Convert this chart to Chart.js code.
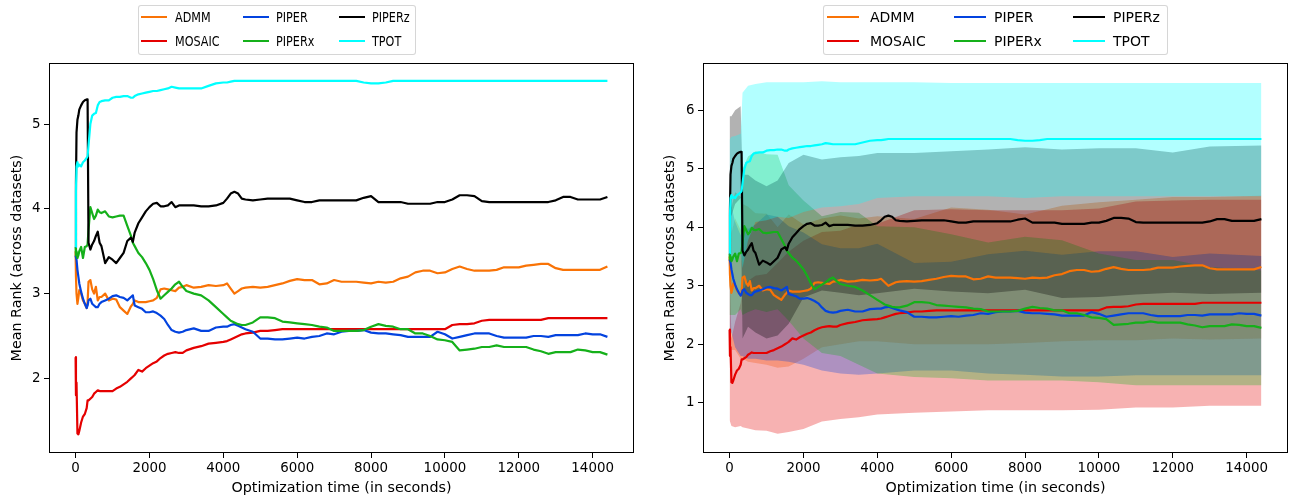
<!DOCTYPE html>
<html><head><meta charset="utf-8">
<script src="https://cdn.jsdelivr.net/npm/chart.js@4.4.0/dist/chart.umd.min.js"></script>
<style>
html,body{margin:0;padding:0;background:#fff;}
#wrap{position:relative;width:1291px;height:502px;overflow:hidden;font-family:"DejaVu Sans",sans-serif;background:#fff;}
canvas{position:absolute;top:0;}
.leg{position:absolute;border:1px solid rgba(204,204,204,0.8);border-radius:3px;background:rgba(255,255,255,0.8);box-sizing:border-box;}
.li{position:absolute;height:2px;}
.lt{position:absolute;color:#000;white-space:nowrap;line-height:normal;transform-origin:0 50%;}
</style></head>
<body><div id="wrap">
<canvas id="c1" width="645" height="502" style="left:0px"></canvas>
<canvas id="c2" width="646" height="502" style="left:645px"></canvas>
</div>
<script>
// ---------------- DATA ----------------
const times = [0,10,25,50,75,100,150,200,250,300,
  325,350,400,450,500,550,600,650,700,
  800,900,1000,1100,1200,1300,1400,1500,
  1550,1600,
  1700,1800,1900,2000,2100,2200,2300,2400,2500,2600,2700,2800,2900,3000,
  3200,3400,3600,3800,4000,
  4100,4200,4300,4400,4500,4600,
  4800,5000,5200,5400,5600,5800,6000,6200,6400,6600,6800,7000,7200,7400,7600,7800,8000,8200,8400,8600,8800,9000,9200,9400,9600,9800,10000,10200,10400,10600,10800,11000,11200,11400,11600,11800,12000,12200,12400,12600,12800,13000,13200,13400,13600,13800,14000,14200,14400];

const admm = [3.5,3.2,3.0,2.88,2.95,3.04,3.0,2.92,2.88,2.83,
  2.9,3.14,3.16,3.05,3.0,3.08,2.92,2.96,2.96,
  3.0,2.92,2.94,2.93,2.84,2.8,2.76,2.85,
  2.88,2.92,
  2.9,2.9,2.9,2.91,2.92,2.95,3.05,3.06,3.05,3.04,3.03,3.07,3.08,3.1,
  3.07,3.08,3.1,3.09,3.1,
  3.12,3.06,3.0,3.03,3.06,3.07,
  3.08,3.07,3.08,3.1,3.12,3.15,3.17,3.16,3.16,3.11,3.12,3.16,3.14,3.14,3.14,3.13,3.12,3.14,3.13,3.14,3.18,3.2,3.25,3.27,3.27,3.24,3.25,3.29,3.32,3.29,3.27,3.27,3.27,3.28,3.31,3.31,3.31,3.33,3.34,3.35,3.35,3.3,3.28,3.28,3.28,3.28,3.28,3.28,3.32];

const mosaic = [2.25,1.8,1.95,1.35,1.34,1.38,1.48,1.55,1.58,1.65,
  1.74,1.74,1.76,1.78,1.82,1.84,1.86,1.85,1.85,
  1.85,1.85,1.85,1.88,1.9,1.93,1.96,2.0,
  2.02,2.04,
  2.1,2.08,2.12,2.15,2.18,2.2,2.24,2.27,2.29,2.3,2.31,2.3,2.3,2.33,
  2.36,2.38,2.41,2.42,2.43,
  2.44,2.46,2.48,2.5,2.52,2.53,
  2.54,2.56,2.56,2.57,2.58,2.58,2.58,2.58,2.58,2.58,2.58,2.58,2.58,2.58,2.58,2.58,2.58,2.58,2.58,2.58,2.58,2.58,2.58,2.58,2.58,2.58,2.58,2.63,2.64,2.64,2.65,2.68,2.69,2.69,2.69,2.69,2.69,2.69,2.69,2.69,2.71,2.71,2.71,2.71,2.71,2.71,2.71,2.71,2.71];

const piper = [3.45,3.43,3.4,3.28,3.2,3.12,3.02,2.94,2.88,2.83,
  2.86,2.92,2.94,2.88,2.86,2.84,2.84,2.88,2.9,
  2.92,2.94,2.97,2.98,2.96,2.95,2.92,2.96,
  2.98,2.86,
  2.84,2.82,2.78,2.78,2.79,2.77,2.74,2.7,2.63,2.57,2.55,2.54,2.55,2.57,
  2.59,2.56,2.56,2.6,2.61,
  2.61,2.63,2.64,2.62,2.6,2.58,
  2.55,2.47,2.47,2.46,2.46,2.47,2.48,2.47,2.49,2.5,2.53,2.52,2.55,2.56,2.56,2.57,2.54,2.53,2.53,2.52,2.51,2.49,2.49,2.49,2.49,2.55,2.52,2.47,2.49,2.51,2.53,2.53,2.53,2.5,2.48,2.48,2.48,2.48,2.5,2.5,2.49,2.51,2.51,2.51,2.51,2.53,2.52,2.52,2.49];

const piperx = [3.55,3.45,3.5,3.42,3.45,3.5,3.55,3.42,3.55,3.56,
  3.58,3.75,4.02,3.95,3.88,3.92,3.99,3.96,3.95,
  3.97,3.91,3.9,3.91,3.92,3.92,3.8,3.68,
  3.6,3.56,
  3.48,3.43,3.36,3.28,3.17,3.04,2.94,2.98,3.02,3.06,3.11,3.14,3.08,3.03,
  3.0,2.98,2.92,2.84,2.76,
  2.72,2.68,2.66,2.64,2.63,2.63,
  2.66,2.72,2.72,2.71,2.67,2.66,2.65,2.64,2.63,2.61,2.6,2.56,2.56,2.56,2.56,2.57,2.61,2.64,2.62,2.61,2.58,2.58,2.53,2.53,2.5,2.46,2.45,2.43,2.33,2.34,2.35,2.37,2.37,2.39,2.37,2.37,2.37,2.37,2.34,2.32,2.29,2.31,2.31,2.31,2.34,2.33,2.31,2.31,2.28];

const piperz = [3.55,4.3,4.9,5.05,5.1,5.17,5.22,5.26,5.28,5.29,
  5.29,3.6,3.52,3.58,3.62,3.68,3.73,3.6,3.56,
  3.36,3.43,3.4,3.36,3.42,3.48,3.62,3.66,
  3.61,3.72,
  3.83,3.9,3.97,4.02,4.06,4.07,4.03,4.03,4.04,4.08,4.02,4.04,4.04,4.04,
  4.04,4.03,4.03,4.04,4.07,
  4.12,4.18,4.2,4.18,4.12,4.11,
  4.1,4.11,4.12,4.12,4.12,4.12,4.1,4.08,4.08,4.1,4.1,4.1,4.1,4.1,4.1,4.13,4.15,4.08,4.08,4.08,4.08,4.06,4.06,4.06,4.06,4.08,4.08,4.11,4.16,4.16,4.15,4.09,4.08,4.08,4.08,4.08,4.08,4.08,4.08,4.08,4.08,4.1,4.14,4.14,4.11,4.11,4.11,4.11,4.14];

const tpot = [3.55,4.2,4.5,4.55,4.5,4.52,4.5,4.55,4.57,4.6,
  4.62,4.75,5.0,5.1,5.12,5.13,5.22,5.26,5.27,
  5.28,5.28,5.31,5.32,5.32,5.33,5.33,5.31,
  5.31,5.33,
  5.35,5.36,5.37,5.38,5.39,5.39,5.4,5.41,5.42,5.44,5.43,5.42,5.42,5.42,
  5.42,5.42,5.45,5.48,5.49,
  5.49,5.5,5.51,5.51,5.51,5.51,
  5.51,5.51,5.51,5.51,5.51,5.51,5.51,5.51,5.51,5.51,5.51,5.51,5.51,5.51,5.51,5.49,5.48,5.48,5.49,5.51,5.51,5.51,5.51,5.51,5.51,5.51,5.51,5.51,5.51,5.51,5.51,5.51,5.51,5.51,5.51,5.51,5.51,5.51,5.51,5.51,5.51,5.51,5.51,5.51,5.51,5.51,5.51,5.51,5.51];

// band edges (mean +/- spread)
const bandTimes = [0,50,150,300,350,500,700,1000,1300,1600,2000,2500,3000,3500,4000,5000,6000,7000,8000,9000,10000,11000,12000,13000,14400];
const admmLow   = [2.2,1.9,1.9,1.75,1.75,1.7,1.68,1.65,1.6,1.62,1.75,1.95,2.0,2.05,2.05,2.0,2.0,2.0,2.02,2.05,2.07,2.07,2.1,2.08,2.1];
const admmHigh  = [4.4,3.9,4.15,3.95,4.4,4.35,4.24,4.23,4.0,4.22,4.05,4.15,4.2,4.15,4.19,4.14,4.34,4.3,4.22,4.37,4.43,4.47,4.52,4.52,4.54];
const mosaicLow = [0.7,0.6,0.58,0.6,0.58,0.56,0.53,0.52,0.47,0.5,0.55,0.68,0.72,0.75,0.8,0.83,0.85,0.87,0.87,0.87,0.88,0.92,0.92,0.95,0.95];
const mosaicHigh= [3.3,2.1,2.38,2.7,2.9,3.08,3.17,3.2,3.39,3.58,3.77,3.92,3.94,4.05,4.06,4.29,4.31,4.29,4.29,4.29,4.32,4.44,4.46,4.47,4.47];
const piperLow  = [2.2,2.2,1.95,1.8,1.8,1.75,1.75,1.72,1.72,1.7,1.65,1.55,1.5,1.48,1.5,1.55,1.55,1.5,1.48,1.45,1.45,1.47,1.47,1.47,1.47];
const piperHigh = [4.6,4.36,4.09,3.86,4.04,3.97,4.05,4.22,4.18,4.02,3.91,3.71,3.64,3.64,3.72,3.39,3.41,3.54,3.6,3.53,3.59,3.59,3.49,3.55,3.51];
const piperxLow = [2.5,2.5,2.5,2.6,2.5,2.55,2.6,2.55,2.6,2.4,2.1,1.85,1.8,1.65,1.5,1.44,1.42,1.38,1.38,1.38,1.35,1.3,1.3,1.3,1.3];
const piperxHigh= [4.6,4.34,4.6,4.52,5.0,5.21,5.3,5.25,5.24,4.72,4.46,4.19,4.26,4.25,4.02,4.0,3.88,3.74,3.84,3.78,3.55,3.44,3.44,3.32,3.26];
const piperzLow = [4.2,4.2,4.4,4.5,2.1,2.3,2.2,2.1,2.15,2.35,2.8,2.92,2.88,2.84,2.87,2.95,2.9,2.87,2.93,2.79,2.81,2.85,2.88,2.86,2.88];
const piperzHigh= [5.9,5.9,6.0,6.07,4.9,4.9,4.8,4.7,4.8,5.1,5.24,5.16,5.2,5.22,5.27,5.27,5.3,5.33,5.37,5.33,5.35,5.35,5.28,5.38,5.4];
const tpotLow   = [3.45,3.45,3.44,3.6,3.3,3.78,4.09,4.12,4.18,4.16,4.26,4.34,4.36,4.4,4.5,4.53,4.53,4.53,4.5,4.53,4.53,4.53,4.53,4.53,4.53];
const tpotHigh  = [5.5,5.55,5.56,5.6,6.3,6.42,6.45,6.48,6.48,6.48,6.48,6.5,6.48,6.48,6.48,6.48,6.47,6.47,6.47,6.47,6.47,6.47,6.47,6.47,6.47];

const seriesNames = ['ADMM','MOSAIC','PIPER','PIPERx','PIPERz','TPOT'];
const xTicks = [0,2000,4000,6000,8000,10000,12000,14000];
const yTicksLeft = [2,3,4,5];
const yTicksRight = [1,2,3,4,5,6];
const xLabel = 'Optimization time (in seconds)';
const yLabel = 'Mean Rank (across datasets)';

// ---------------- STYLE ----------------
const colors = ['#f97306','#e50000','#0343df','#15b01a','#000000','#00ffff'];
const bandRGB = [[249,115,6],[229,0,0],[3,67,223],[21,176,26],[0,0,0],[0,255,255]];
const means = [admm, mosaic, piper, piperx, piperz, tpot];
const lows = [admmLow, mosaicLow, piperLow, piperxLow, piperzLow, tpotLow];
const highs = [admmHigh, mosaicHigh, piperHigh, piperxHigh, piperzHigh, tpotHigh];
const FONT = "DejaVu Sans";

const framePlugin = {
  id: 'frame',
  afterDatasetsDraw(chart) {
    const {ctx, chartArea: a} = chart;
    ctx.save();
    ctx.strokeStyle = '#000';
    ctx.lineWidth = 1;
    ctx.strokeRect(Math.round(a.left) + 0.5, Math.round(a.top) + 0.5,
                   Math.round(a.right - a.left) - 1, Math.round(a.bottom - a.top) - 1);
    ctx.restore();
  }
};

function pts(ts, vs) { return ts.map((t, i) => ({x: t, y: vs[i]})); }

function makeChart(id, cfg) {
  const datasets = [];
  if (cfg.bands) {
    for (let k = 0; k < 6; k++) {
      const c = bandRGB[k];
      datasets.push({data: pts(bandTimes, lows[k]), borderWidth: 0, pointRadius: 0, fill: false, order: 30 - k, label: '_l' + k});
      datasets.push({data: pts(bandTimes, highs[k]), borderWidth: 0, pointRadius: 0, order: 30 - k, label: '_h' + k,
        fill: '-1', backgroundColor: `rgba(${c[0]},${c[1]},${c[2]},0.3)`});
    }
  }
  for (let k = 0; k < 6; k++) {
    datasets.push({label: seriesNames[k], data: pts(times, means[k]), borderColor: colors[k], backgroundColor: colors[k],
      borderWidth: 2.2, pointRadius: 0, tension: 0, fill: false, order: 20 - k,
      borderJoinStyle: 'round', borderCapStyle: 'butt'});
  }
  return new Chart(document.getElementById(id), {
    type: 'line',
    data: {datasets},
    plugins: [framePlugin],
    options: {
      responsive: false, animation: false, devicePixelRatio: 1,
      layout: {padding: {left: 0, top: 63, right: cfg.padRight, bottom: 0}},
      plugins: {legend: {display: false}, tooltip: {enabled: false}, filler: {propagate: false}},
      scales: {
        x: {
          type: 'linear', min: -720, max: 15120,
          afterBuildTicks: s => { s.ticks = xTicks.map(v => ({value: v})); },
          afterFit: s => { s.height = 49; },
          grid: {display: true, drawOnChartArea: false, drawTicks: true, tickLength: 5, color: '#000', lineWidth: 1},
          border: {display: false},
          ticks: {font: {family: FONT, size: 13.4}, color: '#000', padding: 2, maxRotation: 0, autoSkip: false,
                  callback: v => String(v)},
          title: {display: true, text: xLabel, font: {family: FONT, size: 14.3}, color: '#000', padding: {top: 0, bottom: 5.4}}
        },
        y: {
          type: 'linear', min: cfg.yMin, max: cfg.yMax,
          afterBuildTicks: s => { s.ticks = cfg.yTicks.map(v => ({value: v})); },
          afterFit: s => { s.width = cfg.yWidth; },
          grid: {display: true, drawOnChartArea: false, drawTicks: true, tickLength: 5, color: '#000', lineWidth: 1},
          border: {display: false},
          ticks: {font: {family: FONT, size: 13.4}, color: '#000', padding: 3.5, autoSkip: false, callback: v => String(v)},
          title: {display: true, text: yLabel, font: {family: FONT, size: 14.3}, color: '#000', padding: {top: cfg.yTitlePad, bottom: 0}}
        }
      }
    }
  });
}

makeChart('c1', {bands: false, padRight: 11, yMin: 1.12, yMax: 5.72, yTicks: yTicksLeft, yWidth: 49, yTitlePad: 8.4});
makeChart('c2', {bands: true, padRight: 3, yMin: 0.14, yMax: 6.81, yTicks: yTicksRight, yWidth: 58, yTitlePad: 16.4});

// ---------------- LEGENDS (html text) ----------------
function legend(box, lineX, lineLen, textX, rowY, fontSize, squeeze) {
  const wrap = document.getElementById('wrap');
  const b = document.createElement('div');
  b.className = 'leg';
  Object.assign(b.style, {left: box[0] + 'px', top: box[1] + 'px', width: box[2] + 'px', height: box[3] + 'px'});
  wrap.appendChild(b);
  seriesNames.forEach((name, i) => {
    const col = Math.floor(i / 2), row = i % 2;
    const l = document.createElement('div');
    l.className = 'li';
    Object.assign(l.style, {left: lineX[col] + 'px', top: (rowY[row] - 1) + 'px', width: lineLen + 'px', background: colors[i]});
    wrap.appendChild(l);
    const t = document.createElement('div');
    t.className = 'lt';
    t.textContent = name;
    Object.assign(t.style, {left: textX[col] + 'px', top: rowY[row] + 'px', fontSize: fontSize + 'px',
      transform: `translateY(-50%) scaleX(${squeeze})`});
    wrap.appendChild(t);
  });
}
legend([138, 5, 278, 50], [141, 243, 339], 26, [175, 276, 372], [17, 40.7], 14, 0.8);
legend([823, 5, 345, 50], [827, 954, 1073], 32, [870, 994, 1113], [17.3, 40.7], 14, 1);
</script>
</body></html>
